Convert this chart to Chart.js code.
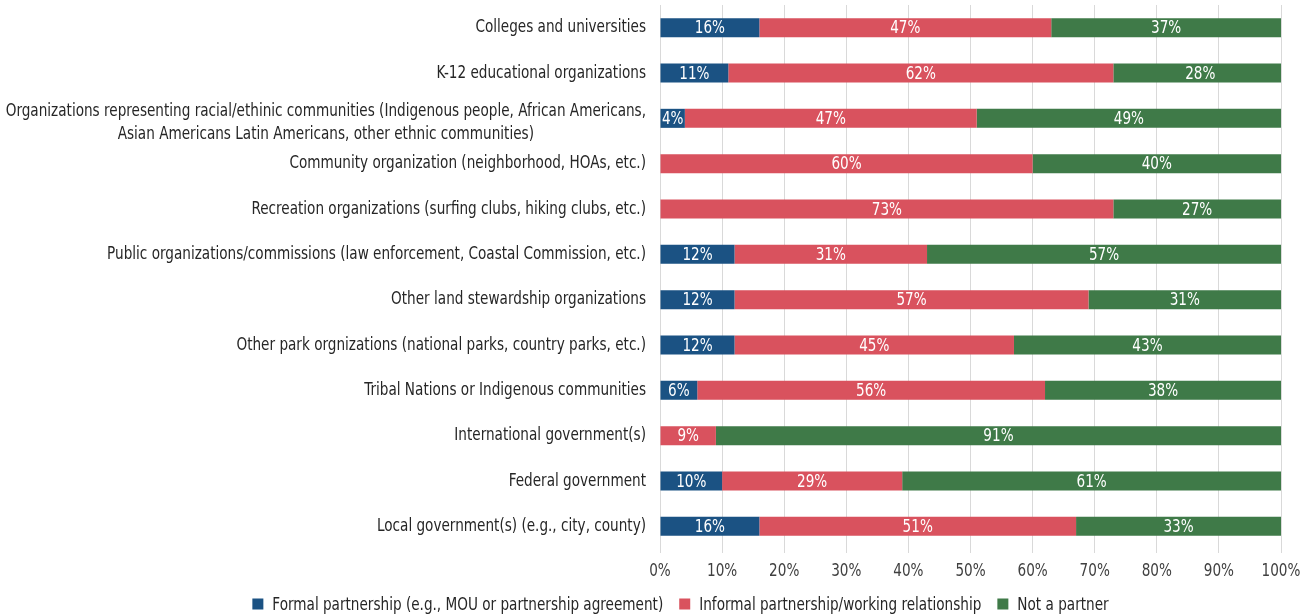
<!DOCTYPE html>
<html>
<head>
<meta charset="utf-8">
<script src="https://cdn.jsdelivr.net/npm/chart.js@4/dist/chart.umd.min.js"></script>
<style>
  html, body { margin: 0; padding: 0; background: #fff; }
  #wrap { width: 1311px; height: 616px; position: relative; }
</style>
</head>
<body>
<div id="wrap"><canvas id="chart"></canvas></div>
<script>
const FONT = '"DejaVu Sans Condensed", "Liberation Sans Narrow", "Roboto Condensed", sans-serif';
const FONT_SIZE = 18;
const SQUEEZE = 0.84;   // horizontal squeeze for a narrow, tall face

const categories = [
  'Colleges and universities',
  'K-12 educational organizations',
  ['Organizations representing racial/ethinic communities (Indigenous people, African Americans,',
   'Asian Americans Latin Americans, other ethnic communities)'],
  'Community organization (neighborhood, HOAs, etc.)',
  'Recreation organizations (surfing clubs, hiking clubs, etc.)',
  'Public organizations/commissions (law enforcement, Coastal Commission, etc.)',
  'Other land stewardship organizations',
  'Other park orgnizations (national parks, country parks, etc.)',
  'Tribal Nations or Indigenous communities',
  'International government(s)',
  'Federal government',
  'Local government(s) (e.g., city, county)'
];

const formal     = [16, 11, 4, 0, 0, 12, 12, 12, 6, 0, 10, 16];
const informal   = [47, 62, 47, 60, 73, 31, 57, 45, 56, 9, 29, 51];
const notPartner = [37, 28, 49, 40, 27, 57, 31, 43, 38, 91, 61, 33];

const seriesNames = [
  'Formal partnership (e.g., MOU or partnership agreement)',
  'Informal partnership/working relationship',
  'Not a partner'
];
const seriesColors = ['#1b5283', '#d9525e', '#3f7a48'];

const xTicks = [0, 10, 20, 30, 40, 50, 60, 70, 80, 90, 100];

// draw text narrowed horizontally around (x, y)
function squeezedText(ctx, text, x, y, align) {
  const w = ctx.measureText(text).width * SQUEEZE;
  let left = x;
  if (align === 'center') left = x - w / 2;
  else if (align === 'right') left = x - w;
  ctx.save();
  ctx.translate(left, y);
  ctx.scale(SQUEEZE, 1);
  ctx.textAlign = 'left';
  ctx.fillText(text, 0, 0);
  ctx.restore();
  return w;
}

function textWidth(ctx, text) {
  return ctx.measureText(text).width * SQUEEZE;
}

// white percentage labels centred in each segment
const segmentLabels = {
  id: 'segmentLabels',
  afterDatasetsDraw(chart) {
    const ctx = chart.ctx;
    ctx.save();
    ctx.fillStyle = '#ffffff';
    ctx.font = FONT_SIZE + 'px ' + FONT;
    ctx.textBaseline = 'middle';
    chart.data.datasets.forEach((ds, i) => {
      const meta = chart.getDatasetMeta(i);
      meta.data.forEach((bar, j) => {
        const v = ds.data[j];
        if (!v) return;
        squeezedText(ctx, v + '%', (bar.x + bar.base) / 2, bar.y + 1, 'center');
      });
    });
    ctx.restore();
  }
};

// category labels, x tick labels and the legend
const axisText = {
  id: 'axisText',
  afterDraw(chart) {
    const ctx = chart.ctx;
    const area = chart.chartArea;
    const y = chart.scales.y;
    const x = chart.scales.x;
    ctx.save();
    ctx.font = FONT_SIZE + 'px ' + FONT;
    ctx.textBaseline = 'middle';

    // categories: right aligned, wrapped lines centred on the widest line
    ctx.fillStyle = '#262626';
    const right = area.left - 14;
    const lineH = 23;
    categories.forEach((label, i) => {
      const lines = Array.isArray(label) ? label : [label];
      const maxW = Math.max(...lines.map(l => textWidth(ctx, l)));
      const cx = right - maxW / 2;
      const yc = y.getPixelForValue(i) + (lines.length > 1 ? 4 : 0);
      lines.forEach((l, k) => {
        squeezedText(ctx, l, cx, yc + (k - (lines.length - 1) / 2) * lineH, 'center');
      });
    });

    // percentage ticks under the plot
    ctx.fillStyle = '#404040';
    xTicks.forEach(v => {
      squeezedText(ctx, v + '%', x.getPixelForValue(v), area.bottom + 22, 'center');
    });

    // legend row, sitting a little right of centre
    const box = 11, gapText = 9, gapItem = 16;
    const items = seriesNames.map((n, i) => ({ name: n, color: seriesColors[i], w: textWidth(ctx, n) }));
    const total = items.reduce((s, it) => s + box + gapText + it.w, 0) + gapItem * (items.length - 1);
    let lx = chart.width / 2 + 25 - total / 2;
    const ly = chart.height - 11;
    items.forEach(it => {
      ctx.fillStyle = it.color;
      ctx.fillRect(lx, ly - box / 2 - 1, box, box);
      lx += box + gapText;
      ctx.fillStyle = '#262626';
      squeezedText(ctx, it.name, lx, ly, 'left');
      lx += it.w + gapItem;
    });
    ctx.restore();
  }
};

const makeSet = (name, data, color) => ({
  label: name,
  data: data,
  backgroundColor: color,
  borderWidth: 0,
  categoryPercentage: 0.84,
  barPercentage: 0.5
});

new Chart(document.getElementById('chart'), {
  type: 'bar',
  data: {
    labels: categories,
    datasets: [
      makeSet(seriesNames[0], formal, seriesColors[0]),
      makeSet(seriesNames[1], informal, seriesColors[1]),
      makeSet(seriesNames[2], notPartner, seriesColors[2])
    ]
  },
  options: {
    indexAxis: 'y',
    responsive: true,
    maintainAspectRatio: false,
    animation: false,
    layout: { padding: { top: 5, right: 30, bottom: 40, left: 0 } },
    scales: {
      x: {
        stacked: true,
        min: 0,
        max: 100,
        afterBuildTicks(scale) { scale.ticks = xTicks.map(v => ({ value: v })); },
        afterFit(scale) { scale.height = 27; },
        grid: { color: '#d9d9d9', lineWidth: 1, tickLength: 4, drawTicks: true },
        border: { display: false },
        ticks: { display: false }
      },
      y: {
        stacked: true,
        grid: { display: false },
        border: { display: false },
        ticks: { display: false },
        afterFit(scale) { scale.width = 660; }
      }
    },
    plugins: {
      legend: { display: false },
      tooltip: { enabled: false }
    }
  },
  plugins: [segmentLabels, axisText]
});
</script>
</body>
</html>
